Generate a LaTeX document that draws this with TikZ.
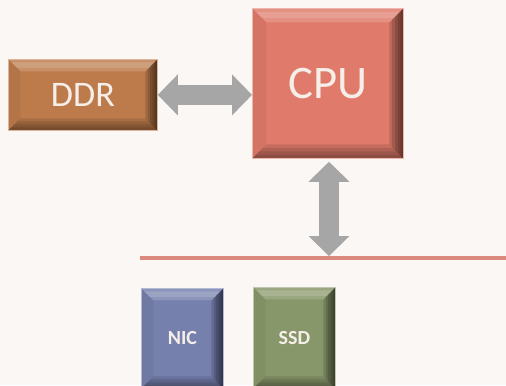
\documentclass[tikz,border=0pt]{standalone}
\usepackage{fontspec}
\setmainfont{Carlito}
\usetikzlibrary{arrows.meta,calc}
\definecolor{bg}{HTML}{FAF7F4}
\definecolor{ddrc}{HTML}{BD7B4C}
\definecolor{cpuc}{HTML}{E07B6B}
\definecolor{nicc}{HTML}{7580AD}
\definecolor{ssdc}{HTML}{88976A}
\definecolor{arrowgray}{HTML}{A6A6A6}
\definecolor{busc}{HTML}{D98A7C}
\definecolor{txtc}{HTML}{F6EEE9}
\tikzset{
  bevel/.style={path picture={
    \path (path picture bounding box.north west) coordinate (pnw)
          (path picture bounding box.south east) coordinate (pse)
          (path picture bounding box.north east) coordinate (pne)
          (path picture bounding box.south west) coordinate (psw);
    % top: light band
    \fill[white,opacity=.16] (pnw) -- (pne) -- ($(pne)+(-#1,-#1)$) -- ($(pnw)+(#1,-#1)$) -- cycle;
    \fill[white,opacity=.14] ($(pnw)+(0.25*#1,-0.25*#1)$) -- ($(pne)+(-0.25*#1,-0.25*#1)$)
       -- ($(pne)+(-0.7*#1,-0.7*#1)$) -- ($(pnw)+(0.7*#1,-0.7*#1)$) -- cycle;
    % right: darkening to edge
    \foreach \k in {1,0.8,0.6,0.4,0.2}{
      \fill[black,opacity=.14] (pne) -- (pse) -- ($(pse)+(-\k*#1,\k*#1)$) -- ($(pne)+(-\k*#1,-\k*#1)$) -- cycle;
    }
    % bottom
    \foreach \k in {1,0.75,0.5,0.25}{
      \fill[black,opacity=.11] (pse) -- (psw) -- ($(psw)+(\k*#1,\k*#1)$) -- ($(pse)+(-\k*#1,\k*#1)$) -- cycle;
    }
    % left: faint
    \fill[black,opacity=.05] (psw) -- (pnw) -- ($(pnw)+(#1,-#1)$) -- ($(psw)+(#1,#1)$) -- cycle;
  }},
  box/.style={fill=#1, draw=#1!55!white, line width=0.6pt, rectangle, inner sep=0pt,
    anchor=north west, text=txtc},
  garrow/.style={draw=arrowgray, line width=15pt,
    {Triangle[length=15pt,width=30.75pt,line width=0pt]}-{Triangle[length=15pt,width=30.75pt,line width=0pt]}},
  busline/.style={draw=busc, line width=2.4pt},
}
\begin{document}
\begin{tikzpicture}[x=0.75pt,y=-0.75pt]
\fill[bg] (0,0) rectangle (506,385);
\useasboundingbox (0,0) rectangle (506,385);
\clip (0,0) rectangle (506,385);

\node[box=ddrc, bevel=9pt, minimum width=111.75pt, minimum height=53.25pt,
  font=\fontsize{27}{27}\selectfont] (ddr) at (8,59) {DDR};
\node[box=cpuc, bevel=10.5pt, minimum width=113.25pt, minimum height=112.5pt,
  font=\fontsize{35}{35}\selectfont] (cpu) at (252,8) {CPU};
\node[box=nicc, bevel=9pt, minimum width=61.5pt, minimum height=75pt,
  font=\fontsize{15}{15}\selectfont\bfseries] (nic) at (141,288) {NIC};
\node[box=ssdc, bevel=9pt, minimum width=61.5pt, minimum height=75.75pt,
  font=\fontsize{15}{15}\selectfont\bfseries] (ssd) at (253,287) {SSD};

\coordinate (busL) at (140,258);
\coordinate (busR) at (506,258);
\coordinate (bus) at (329,258);
\draw[busline] (busL) -- (busR);

\draw[garrow] (ddr.east) -- (ddr.east -| cpu.west);
\draw[garrow, shorten <=2.25pt, shorten >=1.5pt] (cpu.south -| bus) -- (bus);
\end{tikzpicture}
\end{document}
